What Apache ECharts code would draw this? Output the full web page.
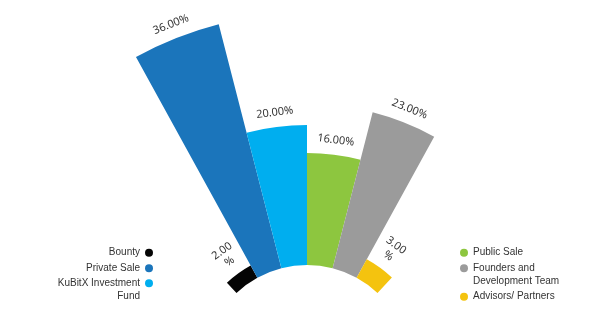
<!DOCTYPE html>
<html>
<head>
<meta charset="utf-8">
<script src="https://cdn.jsdelivr.net/npm/echarts@6/dist/echarts.min.js"></script>
<style>html,body{margin:0;padding:0;background:#fff}#c{width:595px;height:316px}</style>
</head>
<body>
<div id="c"></div>
<script>
const categories = ['Bounty', 'Private Sale', 'KuBitX Investment\nFund', 'Public Sale', 'Founders and\nDevelopment Team', 'Advisors/ Partners'];
const values = [2, 36, 20, 16, 23, 3];
const colors = ['#050505', '#1b75bb', '#00aeef', '#8dc63f', '#9b9b9b', '#f4c30f'];

const chart = echarts.init(document.getElementById('c'), null, {renderer: 'canvas'});

const legendBase = {
  orient: 'vertical', padding: 0, itemWidth: 8, itemHeight: 8, icon: 'circle',
  selectedMode: false,
  textStyle: {fontFamily: 'Liberation Sans', fontSize: 10, color: '#333', lineHeight: 13}
};
function leg(name, side, iconY) {
  const multi = name.indexOf('\n') >= 0;
  const o = Object.assign({}, legendBase, {
    data: [name],
    top: iconY - (multi ? 19.5 : 6.5),
    align: side,
    formatter: n => (multi ? '\n' : '') + n
  });
  if (side === 'right') o.right = 442; else o.left = 460;
  return o;
}

const series = categories.map((name, i) => ({
  type: 'bar',
  name: name,
  coordinateSystem: 'polar',
  data: values.map((v, j) => (j === i ? v : '-')),
  barGap: '-100%',
  barCategoryGap: '0%',
  itemStyle: {color: colors[i]},
  emphasis: {disabled: true},
  label: {
    show: true,
    position: 'end',
    distance: 8,
    fontFamily: 'Noto Sans',
    fontSize: 11,
    lineHeight: 13,
    color: '#333',
    formatter: p => p.value.toFixed(2) + (p.value < 5 ? '\n' : '') + '%'
  }
}));

chart.setOption({
  backgroundColor: '#fff',
  animation: false,
  legend: [
    leg(categories[0], 'right', 252.7),
    leg(categories[1], 'right', 268.3),
    leg(categories[2], 'right', 283.3),
    leg(categories[3], 'left', 252.7),
    leg(categories[4], 'left', 268.3),
    leg(categories[5], 'left', 296.7)
  ],
  polar: {center: [307, 368], radius: [103, 355]},
  angleAxis: {
    type: 'category', data: categories, startAngle: 133.2, endAngle: 46.8, clockwise: true,
    axisLine: {show: false}, axisTick: {show: false}, axisLabel: {show: false}, splitLine: {show: false}
  },
  radiusAxis: {
    type: 'value', min: 0, max: 36,
    axisLine: {show: false}, axisTick: {show: false}, axisLabel: {show: false}, splitLine: {show: false}
  },
  series: series
});
</script>
</body>
</html>
